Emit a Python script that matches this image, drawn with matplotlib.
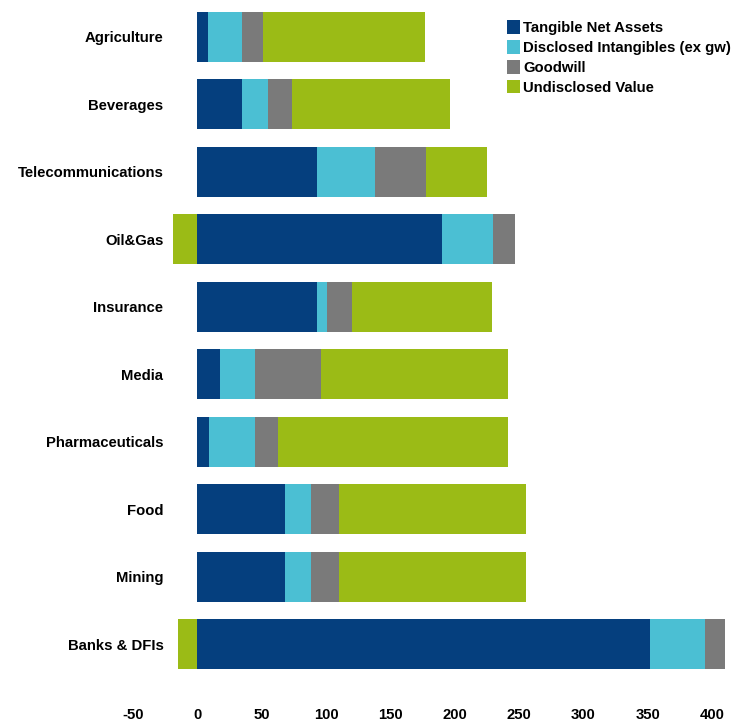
import numpy as np
import matplotlib
matplotlib.use('Agg')
import matplotlib.pyplot as plt

# sectors, top to bottom
sectors = ['Agriculture', 'Beverages', 'Telecommunications', 'Oil&Gas', 'Insurance',
           'Media', 'Pharmaceuticals', 'Food', 'Mining', 'Banks & DFIs']
tangible = [8, 35, 93, 190, 93, 18, 9, 68, 68, 352]
intangibles = [27, 20, 45, 40, 8, 27, 36, 20, 20, 42]
goodwill = [16, 19, 40, 17, 19, 51, 18, 22, 22, 16]
undisclosed = [126, 122, 47, -19, 109, 145, 178, 145, 145, -15]

series_names = ['Tangible Net Assets', 'Disclosed Intangibles (ex gw)',
                'Goodwill', 'Undisclosed Value']
colors = ['#053f7e', '#4bbfd3', '#7a7a7a', '#9bbb16']
xticks = [-50, 0, 50, 100, 150, 200, 250, 300, 350, 400]

plt.rcParams['font.family'] = ['Liberation Sans', 'DejaVu Sans']
plt.rcParams['font.weight'] = 'bold'
fs = 10.7

fig = plt.figure(figsize=(7.38, 7.26), dpi=100)
ax = fig.add_axes([0.18, 0.05, 0.82, 0.946])

y = np.arange(len(sectors))
h = 0.74
pos_left = np.zeros(len(sectors))
neg_left = np.zeros(len(sectors))
for vals, name, c in zip([tangible, intangibles, goodwill, undisclosed], series_names, colors):
    vals = np.array(vals, dtype=float)
    left = np.where(vals >= 0, pos_left, neg_left)
    ax.barh(y, vals, left=left, height=h, color=c, label=name, linewidth=0)
    pos_left += np.where(vals >= 0, vals, 0)
    neg_left += np.where(vals < 0, vals, 0)

ax.set_xlim(-49, 420)
ax.set_ylim(9.67, -0.5)
ax.set_yticks(y)
ax.set_yticklabels(sectors, fontsize=fs, fontweight='bold')
ax.set_xticks(xticks)
ax.set_xticklabels([str(t) for t in xticks], fontsize=fs, fontweight='bold')
ax.tick_params(axis='y', length=0, pad=-22)
ax.tick_params(axis='x', length=0, pad=13)
for s in ax.spines.values():
    s.set_visible(False)

ax.legend(loc='upper left', bbox_to_anchor=(0.687, 0.972), bbox_transform=fig.transFigure,
          frameon=False, fontsize=fs, handlelength=0.85, handleheight=1.0,
          handletextpad=0.25, labelspacing=0.35, borderaxespad=0, borderpad=0)

fig.savefig('out.png', dpi=100)
